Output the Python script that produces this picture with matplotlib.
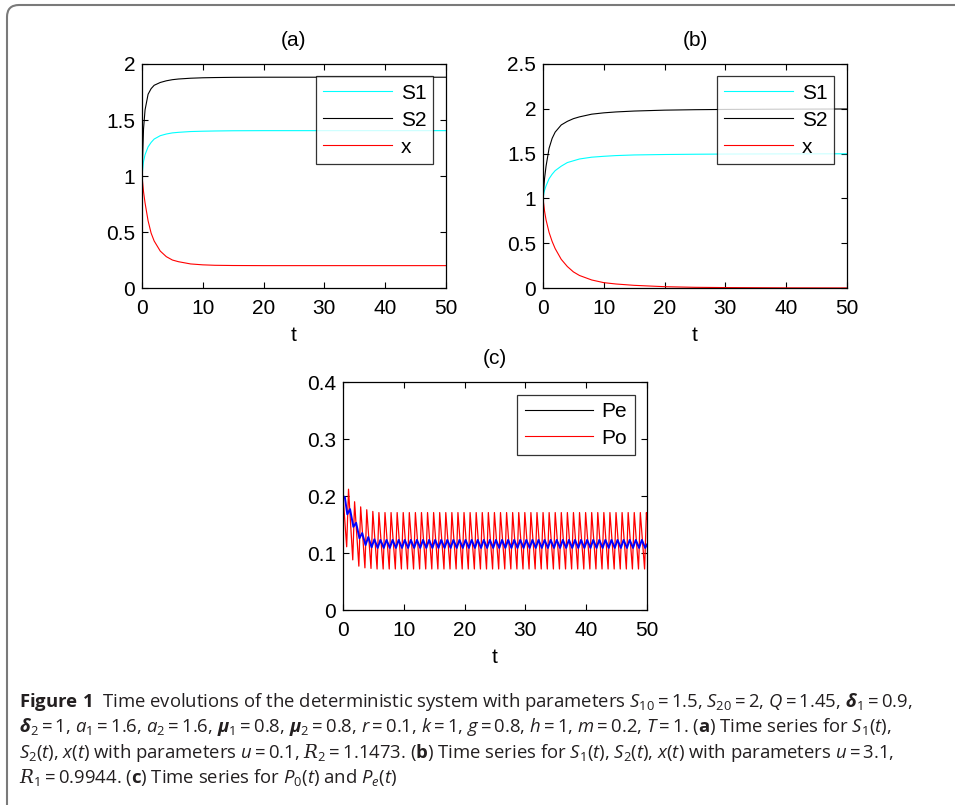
import numpy as np
import matplotlib
matplotlib.use("Agg")
import matplotlib.pyplot as plt
from matplotlib.lines import Line2D
from matplotlib.patches import FancyBboxPatch
from matplotlib.transforms import IdentityTransform

# panel (a) and (b): values
t_ab = [0, 0.25, 0.5, 1, 1.5, 2, 3, 4, 5, 6, 8, 10, 12, 15, 20, 25, 30, 40, 50]
S1_a = [1.0, 1.13, 1.19, 1.26, 1.30, 1.33, 1.36, 1.375, 1.385, 1.39, 1.397, 1.40, 1.402, 1.404, 1.405, 1.405, 1.405, 1.405, 1.405]
S2_a = [1.0, 1.42, 1.59, 1.73, 1.78, 1.81, 1.835, 1.85, 1.86, 1.866, 1.873, 1.877, 1.879, 1.881, 1.882, 1.882, 1.882, 1.882, 1.882]
x_a = [1.0, 0.86, 0.76, 0.60, 0.49, 0.42, 0.33, 0.28, 0.25, 0.235, 0.215, 0.207, 0.203, 0.201, 0.2, 0.2, 0.2, 0.2, 0.2]

S1_b = [1.0, 1.09, 1.14, 1.22, 1.27, 1.31, 1.36, 1.40, 1.42, 1.44, 1.46, 1.47, 1.478, 1.485, 1.49, 1.493, 1.495, 1.497, 1.498]
S2_b = [1.0, 1.22, 1.36, 1.56, 1.67, 1.74, 1.82, 1.86, 1.89, 1.91, 1.94, 1.955, 1.965, 1.975, 1.985, 1.99, 1.993, 1.996, 1.998]
x_b = [1.0, 0.86, 0.76, 0.62, 0.52, 0.44, 0.32, 0.24, 0.18, 0.14, 0.09, 0.06, 0.045, 0.03, 0.015, 0.008, 0.005, 0.002, 0.001]

# panel (c): one trough and one peak per impulse period (T = 1), 50 periods
P_start = 0.2
po_trough = [0.111, 0.088, 0.077, 0.074, 0.073] + [0.072] * 45
po_peak = [0.212, 0.190, 0.181, 0.176, 0.173] + [0.171] * 45
pe_trough = [0.168, 0.146, 0.126, 0.114, 0.110] + [0.109] * 45
pe_peak = [0.177, 0.153, 0.135, 0.128, 0.124] + [0.123] * 44
po_end = 0.16
pe_end = 0.115

# build the time grid for panel (c)
t_po, v_po = [0.0], [P_start]
for k in range(len(po_peak)):
    t_po += [k + 0.6, k + 0.9]
    v_po += [po_trough[k], po_peak[k]]
t_po.append(50.0)
v_po.append(po_end)

t_pe, v_pe = [0.0, 0.3], [P_start, 0.198]
for k in range(len(pe_trough)):
    t_pe.append(k + 0.7)
    v_pe.append(pe_trough[k])
    if k < len(pe_peak):
        t_pe.append(k + 1.15)
        v_pe.append(pe_peak[k])
t_pe.append(50.0)
v_pe.append(pe_end)

plt.rcParams["font.family"] = ["Liberation Sans", "DejaVu Sans"]
plt.rcParams["mathtext.fontset"] = "custom"
plt.rcParams["mathtext.rm"] = "Open Sans"
plt.rcParams["mathtext.it"] = "Open Sans:italic"
plt.rcParams["mathtext.bf"] = "Open Sans:bold"
plt.rcParams["mathtext.bfit"] = "Open Sans:italic:bold"
plt.rcParams["mathtext.cal"] = "DejaVu Serif:italic"

fig = plt.figure(figsize=(9.55, 8.05), dpi=100)
fs = 15
cyan = "#00ffff"


def style(ax, ylim, yticks, title):
    ax.set_xlim(0, 50)
    ax.set_ylim(*ylim)
    ax.set_xticks([0, 10, 20, 30, 40, 50])
    ax.set_yticks(yticks)
    ax.set_yticklabels([("%g" % v) for v in yticks])
    ax.tick_params(direction="in", top=True, right=True, length=4, width=0.8,
                   labelsize=fs, pad=5)
    ax.tick_params(axis="x", pad=8)
    for s in ax.spines.values():
        s.set_linewidth(0.9)
    ax.set_xlabel("t", fontsize=fs, labelpad=6)
    ax.set_title(title, fontsize=fs, pad=13)


def legend(ax, handles, labels):
    lg = ax.legend(handles, labels, loc="upper right", fontsize=fs, frameon=True,
                   fancybox=False, edgecolor="k", handlelength=3.3,
                   borderaxespad=0.6, labelspacing=0.38, handletextpad=0.4,
                   borderpad=0.35)
    lg.get_frame().set_linewidth(0.9)


ax1 = fig.add_axes([0.1487, 0.6422, 0.3183, 0.2783])
l1, = ax1.plot(t_ab, S1_a, color=cyan, lw=0.8)
l2, = ax1.plot(t_ab, S2_a, color="k", lw=0.8)
l3, = ax1.plot(t_ab, x_a, color="r", lw=0.8)
style(ax1, (0, 2), [0, 0.5, 1, 1.5, 2], "(a)")
legend(ax1, [l1, l2, l3], ["S1", "S2", "x"])

ax2 = fig.add_axes([0.5686, 0.6422, 0.3183, 0.2783])
m1, = ax2.plot(t_ab, S1_b, color=cyan, lw=0.8)
m2, = ax2.plot(t_ab, S2_b, color="k", lw=0.8)
m3, = ax2.plot(t_ab, x_b, color="r", lw=0.8)
style(ax2, (0, 2.5), [0, 0.5, 1, 1.5, 2, 2.5], "(b)")
legend(ax2, [m1, m2, m3], ["S1", "S2", "x"])

ax3 = fig.add_axes([0.3592, 0.2422, 0.3183, 0.2832])
ax3.plot(t_po, v_po, color="r", lw=0.9)
ax3.plot(t_pe, v_pe, color="b", lw=1.4)
style(ax3, (0, 0.4), [0, 0.1, 0.2, 0.3, 0.4], "(c)")
legend(ax3, [Line2D([], [], color="k", lw=0.8), Line2D([], [], color="r", lw=0.8)],
       ["Pe", "Po"])

# rounded frame around the figure
frame = FancyBboxPatch((7, -100), 1100, 900, boxstyle="round,pad=0,rounding_size=12",
                       transform=IdentityTransform(), facecolor="none",
                       edgecolor="#7a7a7a", lw=1.5)
fig.add_artist(frame)

cap = [
    r"$\mathbf{Figure\ 1}$  Time evolutions of the deterministic system with parameters "
    r"$S_{10}=1.5$, $S_{20}=2$, $Q=1.45$, $\boldsymbol{\delta}_1=0.9$,",
    r"$\boldsymbol{\delta}_2=1$, $a_1=1.6$, $a_2=1.6$, $\boldsymbol{\mu}_1=0.8$, "
    r"$\boldsymbol{\mu}_2=0.8$, $r=0.1$, $k=1$, $g=0.8$, $h=1$, $m=0.2$, $T=1$. "
    r"($\mathbf{a}$) Time series for $S_1(t)$,",
    r"$S_2(t)$, $x(t)$ with parameters $u=0.1$, $\mathcal{R}_2=1.1473$. "
    r"($\mathbf{b}$) Time series for $S_1(t)$, $S_2(t)$, $x(t)$ with parameters $u=3.1$,",
    r"$\mathcal{R}_1=0.9944$. ($\mathbf{c}$) Time series for $P_0(t)$ and $P_e(t)$",
]
for i, line in enumerate(cap):
    fig.text(19 / 955, 1 - (707 + 25.3 * i) / 805, line, fontsize=13.3,
             family=["Open Sans", "DejaVu Sans"], color="#231f20", va="baseline")

fig.savefig("out.png", dpi=100)
